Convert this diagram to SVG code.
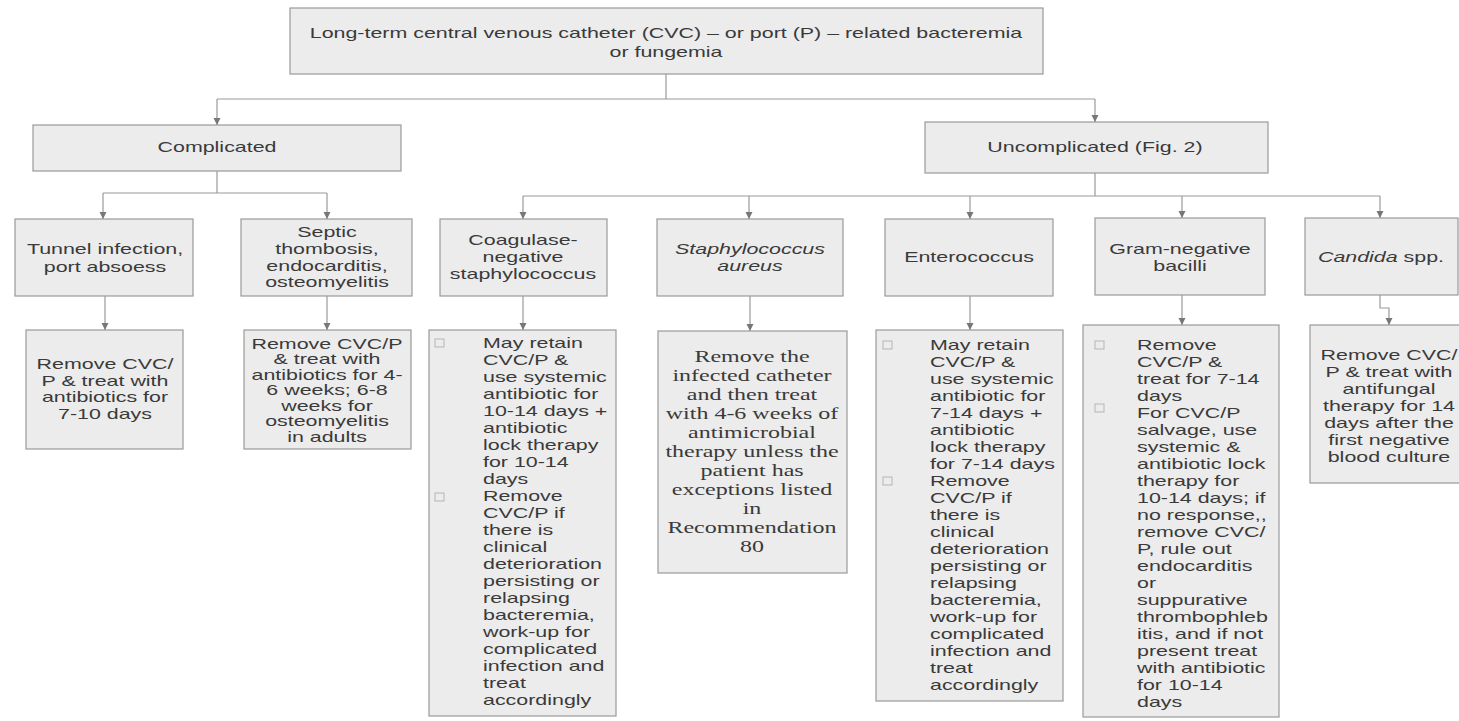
<svg xmlns="http://www.w3.org/2000/svg" width="1459" height="721" viewBox="0 0 1459 721">
<style>
.box{fill:#ececec;stroke:#9a9a9a;stroke-width:1.2}
.t{font-family:"Liberation Sans",Arial,sans-serif;font-size:14px;fill:#3a3a3a}
.c{text-anchor:middle}
.s{font-family:"Liberation Serif","Times New Roman",serif;font-size:16px;fill:#3a3a3a;text-anchor:middle}
.i{font-style:italic}
.cb{fill:none;stroke:#b5b5b5;stroke-width:1}
.ln{fill:none;stroke:#9a9a9a;stroke-width:1.2}
.ar{fill:none;stroke:#9a9a9a;stroke-width:1.2;marker-end:url(#ah)}
</style>
<defs>
<marker id="ah" viewBox="0 0 10 10" refX="10" refY="5" markerWidth="7" markerHeight="9" orient="auto" markerUnits="userSpaceOnUse">
<path d="M0,0 L10,5 L0,10 z" fill="#777"/>
</marker>
</defs>
<rect width="1459" height="721" fill="#fff"/>

<g id="connectors">
<path class="ln" d="M666,74 V99 M217,99 H1095"/>
<path class="ar" d="M217,99 V125"/>
<path class="ar" d="M1095,99 V122"/>
<path class="ln" d="M217,171 V193 M103,193 H327"/>
<path class="ar" d="M103,193 V219"/>
<path class="ar" d="M327,193 V219"/>
<path class="ln" d="M1095,173 V196 M523,196 H1380"/>
<path class="ar" d="M523,196 V219"/>
<path class="ar" d="M749,196 V219"/>
<path class="ar" d="M970,196 V219"/>
<path class="ar" d="M1182,196 V218"/>
<path class="ar" d="M1380,196 V218"/>
<path class="ar" d="M105,296 V330"/>
<path class="ar" d="M327,296 V330"/>
<path class="ar" d="M523,296 V330"/>
<path class="ar" d="M750,296 V331"/>
<path class="ar" d="M970,296 V330"/>
<path class="ar" d="M1182,295 V325"/>
<path class="ar" d="M1380,295 V308 H1389 V325"/>
</g>

<g id="root">
<rect class="box" x="290" y="8" width="753" height="66"/>
<text class="t c" transform="translate(666,0) scale(1.53,1)"><tspan x="0" y="38">Long-term central venous catheter (CVC) – or port (P) – related bacteremia</tspan><tspan x="0" y="57">or fungemia</tspan></text>
</g>

<g id="complicated">
<rect class="box" x="33" y="125" width="368" height="46"/>
<text class="t c" transform="translate(217,0) scale(1.53,1)"><tspan x="0" y="152">Complicated</tspan></text>
</g>

<g id="uncomplicated">
<rect class="box" x="925" y="122" width="343" height="51"/>
<text class="t c" transform="translate(1095,0) scale(1.53,1)"><tspan x="0" y="152">Uncomplicated (Fig. 2)</tspan></text>
</g>

<g id="tunnel">
<rect class="box" x="15" y="219" width="178" height="77"/>
<text class="t c" transform="translate(105,0) scale(1.53,1)"><tspan x="0" y="254">Tunnel infection,</tspan><tspan x="0" y="272">port absoess</tspan></text>
</g>

<g id="septic">
<rect class="box" x="241" y="219" width="171" height="77"/>
<text class="t c" transform="translate(327,0) scale(1.53,1)"><tspan x="0" y="237">Septic</tspan><tspan x="0" y="254">thombosis,</tspan><tspan x="0" y="271">endocarditis,</tspan><tspan x="0" y="287">osteomyelitis</tspan></text>
</g>

<g id="coagulase">
<rect class="box" x="440" y="219" width="167" height="77"/>
<text class="t c" transform="translate(523,0) scale(1.53,1)"><tspan x="0" y="245">Coagulase-</tspan><tspan x="0" y="262">negative</tspan><tspan x="0" y="279">staphylococcus</tspan></text>
</g>

<g id="saureus">
<rect class="box" x="657" y="219" width="186" height="77"/>
<text class="t c i" transform="translate(750,0) scale(1.53,1)"><tspan x="0" y="254">Staphylococcus</tspan><tspan x="0" y="271">aureus</tspan></text>
</g>

<g id="enterococcus">
<rect class="box" x="885" y="219" width="168" height="77"/>
<text class="t c" transform="translate(969,0) scale(1.53,1)"><tspan x="0" y="262">Enterococcus</tspan></text>
</g>

<g id="gramneg">
<rect class="box" x="1095" y="218" width="170" height="77"/>
<text class="t c" transform="translate(1180,0) scale(1.53,1)"><tspan x="0" y="254">Gram-negative</tspan><tspan x="0" y="271">bacilli</tspan></text>
</g>

<g id="candida">
<rect class="box" x="1305" y="218" width="153" height="77"/>
<text class="t c" transform="translate(1381,0) scale(1.53,1)"><tspan x="0" y="262"><tspan class="i">Candida</tspan> spp.</tspan></text>
</g>

<g id="tunnel-tx">
<rect class="box" x="26" y="330" width="157" height="119"/>
<text class="t c" transform="translate(105,0) scale(1.53,1)"><tspan x="0" y="369">Remove CVC/</tspan><tspan x="0" y="386">P &amp; treat with</tspan><tspan x="0" y="402">antibiotics for</tspan><tspan x="0" y="419">7-10 days</tspan></text>
</g>

<g id="septic-tx">
<rect class="box" x="244" y="330" width="167" height="119"/>
<text class="t c" transform="translate(327,0) scale(1.53,1)"><tspan x="0" y="349">Remove CVC/P</tspan><tspan x="0" y="364.5">&amp; treat with</tspan><tspan x="0" y="380">antibiotics for 4-</tspan><tspan x="0" y="395.5">6 weeks; 6-8</tspan><tspan x="0" y="411">weeks for</tspan><tspan x="0" y="426.5">osteomyelitis</tspan><tspan x="0" y="442">in adults</tspan></text>
</g>

<g id="coagulase-tx">
<rect class="box" x="429" y="330" width="187" height="386"/>
<rect class="cb" x="435" y="339" width="9" height="8"/>
<rect class="cb" x="435" y="493" width="9" height="8"/>
<text class="t" transform="translate(483,0) scale(1.53,1)"><tspan x="0" y="348">May retain</tspan><tspan x="0" y="365">CVC/P &amp;</tspan><tspan x="0" y="382">use systemic</tspan><tspan x="0" y="399">antibiotic for</tspan><tspan x="0" y="416">10-14 days +</tspan><tspan x="0" y="433">antibiotic</tspan><tspan x="0" y="450">lock therapy</tspan><tspan x="0" y="467">for 10-14</tspan><tspan x="0" y="484">days</tspan><tspan x="0" y="501">Remove</tspan><tspan x="0" y="518">CVC/P if</tspan><tspan x="0" y="535">there is</tspan><tspan x="0" y="552">clinical</tspan><tspan x="0" y="569">deterioration</tspan><tspan x="0" y="586">persisting or</tspan><tspan x="0" y="603">relapsing</tspan><tspan x="0" y="620">bacteremia,</tspan><tspan x="0" y="637">work-up for</tspan><tspan x="0" y="654">complicated</tspan><tspan x="0" y="671">infection and</tspan><tspan x="0" y="688">treat</tspan><tspan x="0" y="705">accordingly</tspan></text>
</g>

<g id="saureus-tx">
<rect class="box" x="658" y="331" width="189" height="242"/>
<text class="s" transform="translate(752,0) scale(1.5,1)"><tspan x="0" y="362">Remove the</tspan><tspan x="0" y="381">infected catheter</tspan><tspan x="0" y="400">and then treat</tspan><tspan x="0" y="419">with 4-6 weeks of</tspan><tspan x="0" y="438">antimicrobial</tspan><tspan x="0" y="457">therapy unless the</tspan><tspan x="0" y="476">patient has</tspan><tspan x="0" y="495">exceptions listed</tspan><tspan x="0" y="514">in</tspan><tspan x="0" y="533">Recommendation</tspan><tspan x="0" y="552">80</tspan></text>
</g>

<g id="enterococcus-tx">
<rect class="box" x="876" y="330" width="187" height="371"/>
<rect class="cb" x="883" y="341" width="9" height="8"/>
<rect class="cb" x="883" y="477" width="9" height="8"/>
<text class="t" transform="translate(930,0) scale(1.53,1)"><tspan x="0" y="350">May retain</tspan><tspan x="0" y="367">CVC/P &amp;</tspan><tspan x="0" y="384">use systemic</tspan><tspan x="0" y="401">antibiotic for</tspan><tspan x="0" y="418">7-14 days +</tspan><tspan x="0" y="435">antibiotic</tspan><tspan x="0" y="452">lock therapy</tspan><tspan x="0" y="469">for 7-14 days</tspan><tspan x="0" y="486">Remove</tspan><tspan x="0" y="503">CVC/P if</tspan><tspan x="0" y="520">there is</tspan><tspan x="0" y="537">clinical</tspan><tspan x="0" y="554">deterioration</tspan><tspan x="0" y="571">persisting or</tspan><tspan x="0" y="588">relapsing</tspan><tspan x="0" y="605">bacteremia,</tspan><tspan x="0" y="622">work-up for</tspan><tspan x="0" y="639">complicated</tspan><tspan x="0" y="656">infection and</tspan><tspan x="0" y="673">treat</tspan><tspan x="0" y="690">accordingly</tspan></text>
</g>

<g id="gramneg-tx">
<rect class="box" x="1083" y="325" width="196" height="392"/>
<rect class="cb" x="1095" y="341" width="9" height="8"/>
<rect class="cb" x="1095" y="404" width="9" height="8"/>
<text class="t" transform="translate(1137,0) scale(1.53,1)"><tspan x="0" y="350">Remove</tspan><tspan x="0" y="367">CVC/P &amp;</tspan><tspan x="0" y="384">treat for 7-14</tspan><tspan x="0" y="401">days</tspan><tspan x="0" y="418">For CVC/P</tspan><tspan x="0" y="435">salvage, use</tspan><tspan x="0" y="452">systemic &amp;</tspan><tspan x="0" y="469">antibiotic lock</tspan><tspan x="0" y="486">therapy for</tspan><tspan x="0" y="503">10-14 days; if</tspan><tspan x="0" y="520">no response,,</tspan><tspan x="0" y="537">remove CVC/</tspan><tspan x="0" y="554">P, rule out</tspan><tspan x="0" y="571">endocarditis</tspan><tspan x="0" y="588">or</tspan><tspan x="0" y="605">suppurative</tspan><tspan x="0" y="622">thrombophleb</tspan><tspan x="0" y="639">itis, and if not</tspan><tspan x="0" y="656">present treat</tspan><tspan x="0" y="673">with antibiotic</tspan><tspan x="0" y="690">for 10-14</tspan><tspan x="0" y="707">days</tspan></text>
</g>

<g id="candida-tx">
<rect class="box" x="1310" y="325" width="160" height="158"/>
<text class="t c" transform="translate(1389,0) scale(1.53,1)"><tspan x="0" y="360">Remove CVC/</tspan><tspan x="0" y="377">P &amp; treat with</tspan><tspan x="0" y="394">antifungal</tspan><tspan x="0" y="411">therapy for 14</tspan><tspan x="0" y="428">days after the</tspan><tspan x="0" y="445">first negative</tspan><tspan x="0" y="462">blood culture</tspan></text>
</g>
</svg>
